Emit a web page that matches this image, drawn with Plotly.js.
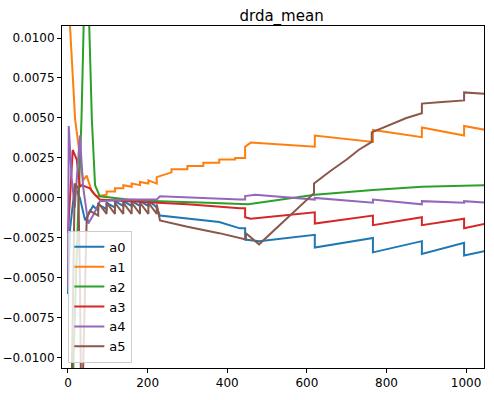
<!DOCTYPE html>
<html><head><meta charset="utf-8">
<script src="https://cdn.plot.ly/plotly-3.0.1.min.js"></script>
<style>body{margin:0}</style></head><body>
<div id="c" style="width:494px;height:400px"></div>
<script>
const names = ["a0","a1","a2","a3","a4","a5"];
const colors = ["#1f77b4","#ff7f0e","#2ca02c","#d62728","#9467bd","#8c564b"];

const a0x = [0,5,17,30,43,55,63,76,76,97,97,118,118,139,139,160,160,181,181,202,202,214,223,231,300,380,432,445,445,480,620,620,766,766,889,889,995,995,1050];
const a0y = [-0.006,-0.002,0.0007,0,-0.0014,-0.0009,-0.0005,-0.0008,-0.0004,-0.0007,-0.0003,-0.0006,-0.0002,-0.0005,-0.0002,-0.0005,-0.0002,-0.0005,-0.0002,-0.0005,-0.0002,-0.0004,-0.0006,-0.0011,-0.0013,-0.0015,-0.0019,-0.0019,-0.0026,-0.0027,-0.0023,-0.0031,-0.0025,-0.0034,-0.0027,-0.0035,-0.0028,-0.0036,-0.0033];

const a1x = [1,5,9,18,30,38,47,60,72,97,97,118,118,139,139,160,160,181,181,202,202,223,223,260,260,300,300,340,340,380,380,420,420,440,445,445,459,620,620,766,766,889,889,995,995,1050];
const a1y = [0.02,0.0108,0.009,0.0049,0.0026,0.0011,0.0014,0.0004,0.0001,0.0002,0.0004,0.0004,0.0006,0.0006,0.0008,0.0007,0.0009,0.0008,0.001,0.0009,0.0011,0.0009,0.0013,0.0016,0.0018,0.0018,0.002,0.002,0.0022,0.0022,0.0024,0.0024,0.0025,0.0025,0.0025,0.0032,0.00346,0.0032,0.0039,0.0035,0.00425,0.0038,0.0044,0.0039,0.0045,0.00425];

const a2x = [8,13,22,34,40,48,52,60,68,80,150,230,350,453,620,766,889,1050];
const a2y = [-0.015,-0.0106,-0.0035,0.005,0.015,0.02,0.012,0.0049,0.0008,0.0001,-0.0001,-0.0002,-0.0003,-0.0004,0.0002,0.0005,0.0007,0.0008];

const a3x = [0,12,22,30,35,55,68,80,150,224,300,432,445,445,459,620,620,766,766,889,889,995,995,1050];
const a3y = [-0.0022,0.003,0.0024,0.0007,0.0008,0.0006,0.0002,-0.0001,-0.0002,-0.0003,-0.0004,-0.00065,-0.00065,-0.0012,-0.0013,-0.0009,-0.0016,-0.0011,-0.0017,-0.0012,-0.0017,-0.0013,-0.0019,-0.0016];

const a4x = [0,2,9,17,30,38,51,63,80,150,223,231,432,445,445,470,620,620,766,766,889,889,995,995,1050];
const a4y = [-0.0055,0.0045,0.0013,-0.0006,0.0039,0.0007,-0.0016,-0.0011,-0.0002,-0.0001,-0.0001,0.0001,-0.0001,-0.0001,0.00012,0.0002,-0.0001,0.0,-0.0003,-0.0001,-0.0004,-0.0002,-0.0003,-0.0002,-0.0003];

const a5x = [5,10,17,26,30,34,47,55,76,76,97,97,118,118,139,139,160,160,181,181,202,202,223,223,231,300,380,432,447,447,480,618,618,660,700,730,763,763,800,850,889,889,940,995,995,1050];
const a5y = [-0.015,-0.0106,0.0009,0.0006,-0.005,-0.015,-0.0013,-0.0008,-0.0011,-0.0003,-0.0010,-0.0003,-0.0010,-0.0003,-0.0010,-0.0003,-0.0010,-0.0003,-0.0010,-0.0003,-0.0010,-0.0003,-0.0010,-0.0004,-0.0014,-0.0018,-0.0022,-0.0025,-0.0026,-0.0022,-0.0029,0.0003,0.0009,0.0017,0.0024,0.0030,0.0035,0.0041,0.0045,0.0050,0.0053,0.0059,0.0060,0.0061,0.0066,0.0065];

const xs = [a0x,a1x,a2x,a3x,a4x,a5x];
const ys = [a0y,a1y,a2y,a3y,a4y,a5y];
const yticks = [-0.01,-0.0075,-0.005,-0.0025,0,0.0025,0.005,0.0075,0.01];

const traces = names.map((n,i)=>({x:xs[i],y:ys[i],name:n,mode:"lines",line:{color:colors[i],width:2}}));
const ax = {showline:true,mirror:true,linecolor:"black",linewidth:1,ticks:"outside",ticklen:4,tickcolor:"black",showgrid:false,zeroline:false,tickfont:{size:12,color:"black"}};
Plotly.newPlot("c",traces,{
  width:494,height:400,
  margin:{l:62,r:10,t:26,b:32},
  paper_bgcolor:"white",plot_bgcolor:"white",
  font:{family:"DejaVu Sans",color:"black"},
  title:{text:"drda_mean",x:0.57,xanchor:"center",y:0.975,yanchor:"top",font:{size:15}},
  xaxis:Object.assign({},ax,{range:[-15,1045],tickvals:[0,200,400,600,800,1000]}),
  yaxis:Object.assign({},ax,{range:[-0.01063,0.01075],tickvals:yticks,tickformat:".4f"}),
  showlegend:true,
  legend:{x:0.015,y:0.015,xanchor:"left",yanchor:"bottom",bgcolor:"rgba(255,255,255,0.8)",bordercolor:"#cccccc",borderwidth:1,font:{size:13},tracegroupgap:0}
},{staticPlot:true});
</script></body></html>
